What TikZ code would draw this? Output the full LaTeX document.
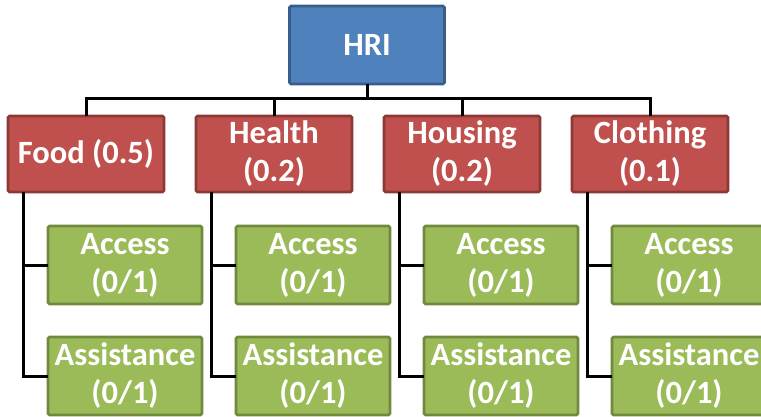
\documentclass[tikz,border=0pt]{standalone}
\usepackage{fontspec}
\setmainfont{Carlito}
\begin{document}
\begin{tikzpicture}[x=1pt,y=-1pt,
  box/.style={draw, line width=2.6pt, rounded corners=1.5pt, text=white,
    font=\fontsize{32.5}{38}\selectfont\bfseries, align=center,
    inner sep=0pt, outer sep=0pt},
  topbox/.style={box, fill={rgb,255:red,79;green,129;blue,189},
    draw={rgb,255:red,56;green,93;blue,138}, minimum width=155pt, minimum height=78pt},
  catbox/.style={box, fill={rgb,255:red,192;green,80;blue,77},
    draw={rgb,255:red,140;green,56;blue,54}, minimum width=156pt, minimum height=76pt},
  subbox/.style={box, fill={rgb,255:red,155;green,187;blue,89},
    draw={rgb,255:red,113;green,137;blue,63}, minimum width=154pt, minimum height=78pt},
  link/.style={line width=3pt, black}]
\useasboundingbox (0,0) rectangle (761,417);
\clip (0,0) rectangle (761,417);

% root
\node[topbox] (hri) at (367,45) {HRI};

% categories
\node[catbox] (food) at (86,154) {Food (0.5)};
\node[catbox] (health) at (274,154) {Health\\(0.2)};
\node[catbox] (housing) at (462,154) {Housing\\(0.2)};
\node[catbox] (clothing) at (650,154) {Clothing\\(0.1)};

% indicators per category
\foreach \n/\x in {food/125, health/313, housing/501, clothing/689}{
  \node[subbox] (acc-\n) at (\x,265) {Access\\(0/1)};
  \node[subbox] (ast-\n) at (\x,376) {Assistance\\(0/1)};
}

% root to categories
\coordinate (bus) at (367,99);
\draw[link] (hri.south) -- (bus);
\foreach \n in {food, health, housing, clothing}
  \draw[link] (bus) -| (\n.north);

% categories to indicators
\foreach \n in {food, health, housing, clothing}{
  \draw[link] ([xshift=-63pt]\n.south) |- (acc-\n.west);
  \draw[link] ([xshift=-63pt]\n.south) |- (ast-\n.west);
}
\end{tikzpicture}
\end{document}
